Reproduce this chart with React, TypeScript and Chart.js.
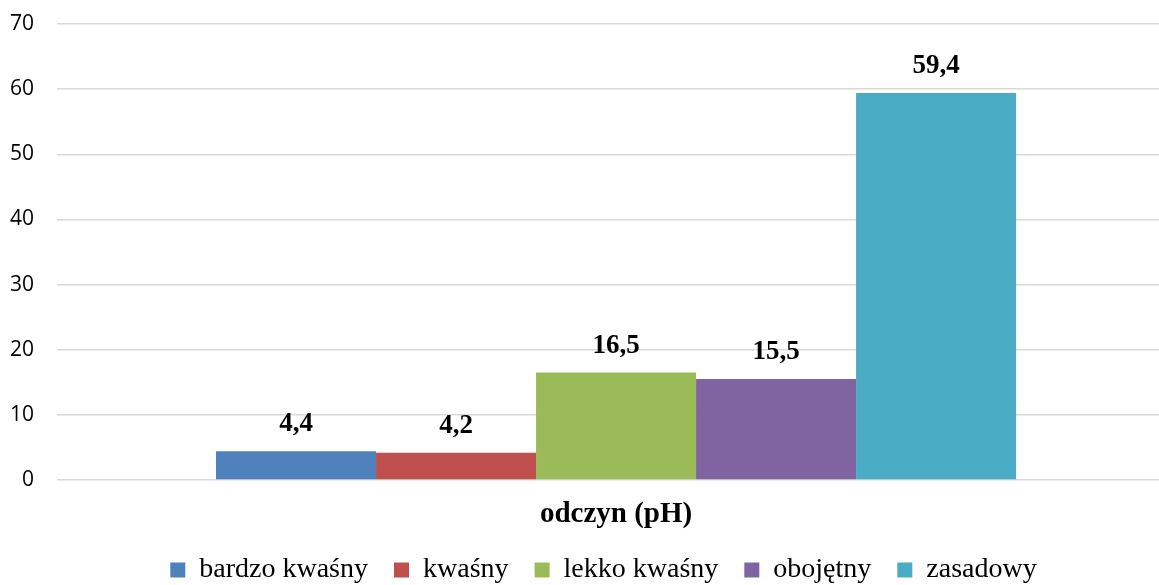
import React, { useEffect, useRef } from "react";
import { Chart, registerables } from "chart.js";

Chart.register(...registerables);

const categories = ["odczyn (pH)"];
const seriesNames = ["bardzo kwaśny", "kwaśny", "lekko kwaśny", "obojętny", "zasadowy"];
const seriesValues = [4.4, 4.2, 16.5, 15.5, 59.4];
const seriesColors = ["#4F81BD", "#C0504D", "#9BBB59", "#8064A2", "#4BACC6"];
const yTicks = [0, 10, 20, 30, 40, 50, 60, 70];

const serif = "'Liberation Serif', 'DejaVu Serif', serif";

const dataLabels = {
  id: "dataLabels",
  afterDatasetsDraw(chart: any) {
    const ctx = chart.ctx;
    ctx.save();
    ctx.font = `bold 27px ${serif}`;
    ctx.fillStyle = "#000";
    ctx.textAlign = "center";
    ctx.textBaseline = "alphabetic";
    chart.data.datasets.forEach((ds: any, i: number) => {
      const meta = chart.getDatasetMeta(i);
      meta.data.forEach((bar: any, j: number) => {
        const v = ds.data[j];
        ctx.fillText(String(v).replace(".", ","), bar.x, bar.y - 20);
      });
    });
    ctx.restore();
  },
};

const layoutTweak = {
  id: "layoutTweak",
  afterLayout(chart: any) {
    const lg = chart.legend;
    if (lg) {
      lg.top += 9;
      lg.bottom += 9;
      lg.left += 20;
      lg.right += 20;
    }
    const x = chart.scales.x;
    if (x) x.bottom += 30;
  },
};

export default function App() {
  const ref = useRef<HTMLCanvasElement>(null);
  useEffect(() => {
    if (!ref.current) return;
    const chart = new Chart(ref.current, {
      type: "bar",
      data: {
        labels: categories,
        datasets: seriesNames.map((name, i) => ({
          label: name,
          data: [seriesValues[i]],
          backgroundColor: seriesColors[i],
          borderWidth: 0,
        })),
      },
      options: {
        animation: false,
        responsive: false,
        maintainAspectRatio: false,
        layout: { padding: { top: 24, left: 8, right: 0, bottom: 0 } },
        datasets: { bar: { barPercentage: 1, categoryPercentage: 0.726 } },
        plugins: {
          legend: {
            position: "bottom",
            labels: {
              font: { family: serif, size: 28 },
              color: "#000",
              boxWidth: 15,
              boxHeight: 15,
              padding: 26,
            },
          },
          tooltip: { enabled: false },
        },
        scales: {
          x: {
            grid: { display: false, drawTicks: false },
            border: { display: false },
            ticks: {
              font: { family: serif, size: 29, weight: "bold" },
              color: "#000",
              padding: 17,
            },
            afterBuildTicks(scale: any) {
              scale._startValue = -0.5073;
            },
            afterFit(scale: any) {
              scale.height = 41;
              scale.paddingLeft = 0;
              scale.paddingRight = 0;
            },
          },
          y: {
            min: 0,
            max: 70,
            afterBuildTicks(scale: any) {
              scale.ticks = yTicks.map((v) => ({ value: v }));
            },
            grid: { color: "#d9d9d9", lineWidth: 1.5, drawTicks: false },
            border: { display: false },
            ticks: {
              font: { family: "'Open Sans', sans-serif", size: 21 },
              color: "#000",
              padding: 23,
            },
            afterFit(scale: any) {
              scale.width = 49;
              scale.paddingTop = 0;
              scale.paddingBottom = 0;
            },
          },
        },
      },
      plugins: [dataLabels, layoutTweak],
    });
    return () => chart.destroy();
  }, []);
  return (
    <div style={{ position: "fixed", left: 0, top: 0, width: 1159, height: 585, background: "#fff" }}>
      <canvas ref={ref} width={1159} height={585} />
    </div>
  );
}
